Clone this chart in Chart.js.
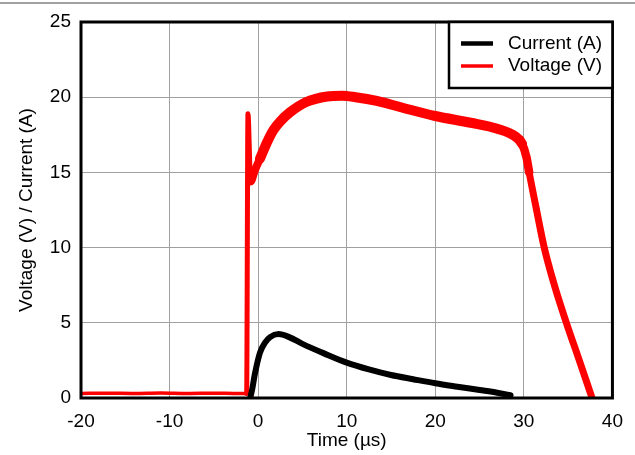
<!DOCTYPE html>
<html><head><meta charset="utf-8">
<script src="https://cdn.jsdelivr.net/npm/chart.js@4.4.0/dist/chart.umd.min.js"></script>
<style>html,body{margin:0;padding:0;background:#fff;}canvas{display:block;}</style>
</head><body>
<canvas id="c" width="635" height="455"></canvas>
<script>
// ---- data ----
const xTicks = [-20, -10, 0, 10, 20, 30, 40];
const yTicks = [0, 5, 10, 15, 20, 25];
const seriesLabels = ['Current (A)', 'Voltage (V)'];

const voltageT = [-20, -17, -14, -11, -8, -5, -2.5, -1.3, -1.15, -0.85, -0.4, 0.2, 1.0, 1.7, 2.5, 3.6, 5.5, 7.8, 9.5, 11, 13.4, 16, 20, 24, 27, 29, 29.8, 30.3, 30.6, 31.4, 32.3, 33.5, 34.8, 36.2, 37.7];
const voltageV = [0.3, 0.32, 0.3, 0.33, 0.3, 0.32, 0.3, 0.3, 18.9, 14.4, 15.1, 15.9, 17.0, 17.8, 18.4, 19.0, 19.7, 20.05, 20.1, 20.0, 19.75, 19.35, 18.75, 18.3, 17.9, 17.4, 16.9, 16.0, 15.0, 12.6, 10.0, 7.4, 5.0, 2.6, 0.0];

const currentT = [-0.9, -0.7, -0.35, 0.2, 0.8, 1.35, 2.3, 3.5, 5, 7.5, 10, 12.5, 15, 17.5, 20, 22.5, 25, 27, 28.5];
const currentA = [0, 0.5, 1.65, 3.0, 3.7, 4.05, 4.25, 4.05, 3.6, 2.95, 2.35, 1.9, 1.53, 1.25, 0.98, 0.75, 0.53, 0.35, 0.18];

const FONT = "'Liberation Sans', Arial, sans-serif";
const toPts = (xs, ys) => xs.map((x, i) => ({x: x, y: ys[i]}));

function voltWidth(ctx) {
  const x = ctx.p0.parsed.x;
  if (x < -1.31) return 3.5;
  if (x < -0.9) return 5;
  if (x < -0.3) return 8;
  if (x < 29.5) return 10;
  if (x < 30.5) return 8.5;
  return 7;
}

const topRule = {
  id: 'topRule',
  beforeDraw(chart) {
    const c = chart.ctx;
    c.save();
    c.strokeStyle = '#808080';
    c.lineWidth = 1.5;
    c.beginPath(); c.moveTo(0, 3); c.lineTo(chart.width, 3); c.stroke();
    c.restore();
  }
};

const frameAndLegend = {
  id: 'frameAndLegend',
  afterDatasetsDraw(chart) {
    const c = chart.ctx;
    const a = chart.chartArea;
    c.save();
    c.strokeStyle = '#000';
    c.lineWidth = 3;
    c.strokeRect(a.left, a.top, a.right - a.left, a.bottom - a.top);
    // legend box
    const lx = 449, ly = a.top, lw = a.right - 449, lh = 88 - a.top;
    c.fillStyle = '#fff';
    c.fillRect(lx, ly, lw, lh);
    c.lineWidth = 2.5;
    c.strokeRect(lx, ly, lw, lh);
    const colors = ['#000000', '#ff0000'];
    const widths = [4.5, 3.5];
    const ys = [43.5, 66];
    c.font = '19px ' + FONT;
    c.textBaseline = 'middle';
    c.textAlign = 'left';
    for (let i = 0; i < seriesLabels.length; i++) {
      c.strokeStyle = colors[i];
      c.lineWidth = widths[i];
      c.beginPath(); c.moveTo(461, ys[i]); c.lineTo(493, ys[i]); c.stroke();
      c.fillStyle = '#000';
      c.fillText(seriesLabels[i], 508, ys[i]);
    }
    c.restore();
  }
};

new Chart(document.getElementById('c'), {
  type: 'line',
  data: {
    datasets: [
      {
        label: seriesLabels[0],
        data: toPts(currentT, currentA),
        borderColor: '#000000',
        borderWidth: 6,
        pointRadius: 0,
        cubicInterpolationMode: 'monotone',
        borderCapStyle: 'round',
        borderJoinStyle: 'round',
        fill: false
      },
      {
        label: seriesLabels[1],
        data: toPts(voltageT, voltageV),
        borderColor: '#ff0000',
        borderWidth: 9,
        pointRadius: 0,
        cubicInterpolationMode: 'monotone',
        borderCapStyle: 'round',
        borderJoinStyle: 'round',
        segment: { borderWidth: voltWidth },
        fill: false
      }
    ]
  },
  options: {
    responsive: false,
    animation: false,
    devicePixelRatio: 1,
    layout: { padding: { top: 22, right: 21, left: 0, bottom: 0 } },
    plugins: { legend: { display: false }, tooltip: { enabled: false } },
    scales: {
      x: {
        type: 'linear', min: -20, max: 40,
        afterBuildTicks: s => { s.ticks = xTicks.map(v => ({value: v})); },
        afterFit: s => { s.height = 57; },
        ticks: { font: { family: FONT, size: 19 }, color: '#000', padding: 12, maxRotation: 0 },
        grid: { color: '#a0a0a0', lineWidth: 1, drawTicks: false },
        border: { display: false },
        title: { display: true, text: 'Time (µs)', font: { family: FONT, size: 19 }, color: '#000', padding: { top: 0, bottom: 3 } }
      },
      y: {
        type: 'linear', min: 0, max: 25,
        afterBuildTicks: s => { s.ticks = yTicks.map(v => ({value: v})); },
        afterFit: s => { s.width = 81; },
        ticks: { font: { family: FONT, size: 19 }, color: '#000', padding: 10 },
        grid: { color: '#a0a0a0', lineWidth: 1, drawTicks: false },
        border: { display: false },
        title: { display: true, text: 'Voltage (V) / Current (A)', font: { family: FONT, size: 19 }, color: '#000', padding: { top: 15, bottom: 0 } }
      }
    }
  },
  plugins: [topRule, frameAndLegend]
});
</script>
</body></html>
